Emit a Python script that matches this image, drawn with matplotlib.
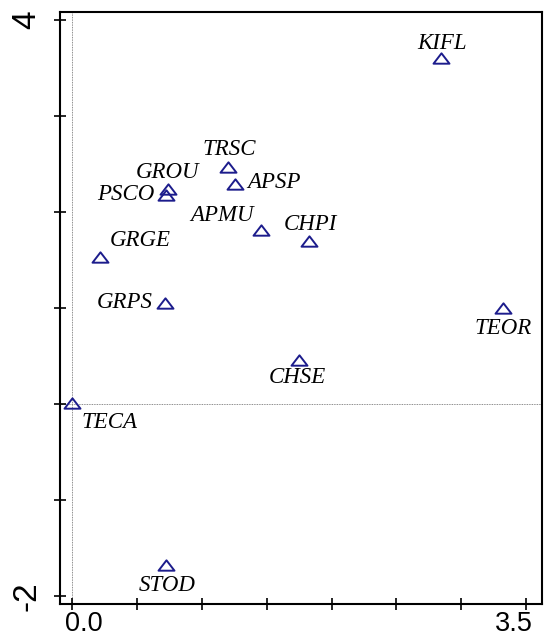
import numpy as np
import matplotlib
matplotlib.use('Agg')
import matplotlib.pyplot as plt
import matplotlib.transforms as mtransforms
from matplotlib.path import Path

# ordination scores
names = ['KIFL', 'TRSC', 'GROU', 'PSCO', 'APSP', 'APMU', 'CHPI',
         'GRGE', 'GRPS', 'TEOR', 'CHSE', 'TECA', 'STOD']
xs = [2.84, 1.20, 0.74, 0.73, 1.26, 1.46, 1.83,
      0.22, 0.72, 3.32, 1.75, 0.00, 0.73]
ys = [3.60, 2.47, 2.24, 2.18, 2.29, 1.81, 1.70,
      1.53, 1.05, 1.00, 0.46, 0.01, -1.68]

xticks = [0.0, 0.5, 1.0, 1.5, 2.0, 2.5, 3.0, 3.5]
xticklabels = ['0.0', '', '', '', '', '', '', '3.5']
yticks = [-2, -1, 0, 1, 2, 3, 4]
yticklabels = ['-2', '', '', '', '', '', '4']

# label placement: (dx px, dy px, ha)
label_pos = {
    'KIFL': (1, -15, 'center'), 'TRSC': (2, -17, 'center'),
    'GROU': (0, -16, 'center'), 'PSCO': (-12, 0, 'right'),
    'APSP': (12, -2, 'left'), 'APMU': (-8, -15, 'right'),
    'CHPI': (1, -16, 'center'), 'GRGE': (10, -17, 'left'),
    'GRPS': (-12, -1, 'right'), 'TEOR': (0, 20, 'center'),
    'CHSE': (-2, 18, 'center'), 'TECA': (10, 19, 'left'),
    'STOD': (1, 20, 'center'),
}

tri = Path([(-1.0, -0.65), (1.0, -0.65), (0.0, 0.65), (-1.0, -0.65)],
           [Path.MOVETO, Path.LINETO, Path.LINETO, Path.CLOSEPOLY])

fig = plt.figure(figsize=(5.45, 6.4), dpi=100)
ax = fig.add_axes([0.110, 0.05625, 0.8845, 0.925])

ax.axhline(0, color='#666666', linestyle=(0, (1, 1)), linewidth=0.6, zorder=1)
ax.axvline(0, color='#666666', linestyle=(0, (1, 1)), linewidth=0.6, zorder=1)

ax.plot(xs, ys, linestyle='', marker=tri, markersize=11.5,
        markerfacecolor='none', markeredgecolor='#1c1c8c',
        markeredgewidth=1.4, zorder=3)

px = 72.0 / 100
for n, x, y in zip(names, xs, ys):
    dx, dy, ha = label_pos[n]
    ax.annotate(n, (x, y), xytext=(dx * px, -dy * px), textcoords='offset points',
                ha=ha, va='center', fontsize=16.5, family='Liberation Serif',
                style='italic', color='black')

ax.set_xlim(-0.09, 3.62)
ax.set_ylim(-2.083, 4.083)
ax.set_xticks(xticks)
ax.set_xticklabels(xticklabels, fontsize=19.5, family='Liberation Sans')
ax.set_yticks(yticks)
ax.set_yticklabels(yticklabels, fontsize=24, family='Liberation Sans',
                   rotation=90, va='center')
ax.tick_params(direction='inout', length=9, width=1.2)
ax.tick_params(axis='x', pad=0.5)
ax.tick_params(axis='y', pad=8)
for s in ax.spines.values():
    s.set_linewidth(1.5)

# nudge the end labels like the original
xl = ax.get_xticklabels()
xl[0].set_transform(xl[0].get_transform() +
                    mtransforms.ScaledTranslation(0.12, 0, fig.dpi_scale_trans))
xl[-1].set_transform(xl[-1].get_transform() +
                     mtransforms.ScaledTranslation(-0.13, 0, fig.dpi_scale_trans))

fig.savefig('out.png', dpi=100)
